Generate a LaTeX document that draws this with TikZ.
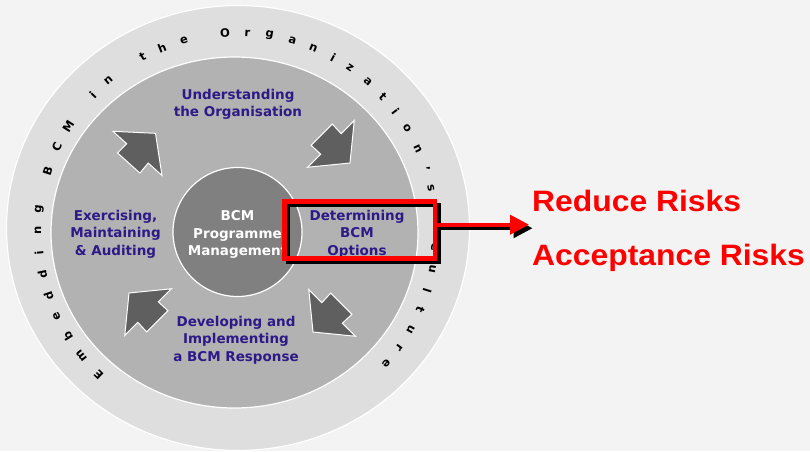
\documentclass[tikz,border=0pt]{standalone}
\usepackage{graphicx}
\usepackage{fontspec}
\setmainfont{DejaVu Sans}
\newfontfamily\arialfont{Liberation Sans}
\usetikzlibrary{arrows.meta}
\definecolor{bgc}{HTML}{F3F3F3}
\definecolor{ringc}{HTML}{DEDEDE}
\definecolor{midc}{HTML}{B2B2B2}
\definecolor{innc}{HTML}{808080}
\definecolor{arrc}{HTML}{5F5F5F}
\definecolor{bluet}{RGB}{46,26,135}
\definecolor{redc}{HTML}{FF0000}
\begin{document}
\begin{tikzpicture}[x=1pt,y=-1pt,
  bluetxt/.style={text=bluet, font=\fontsize{13.5}{17.5}\selectfont\bfseries, align=center, inner sep=0pt},
  whitetxt/.style={text=white, font=\fontsize{13.5}{17.5}\selectfont\bfseries, align=center, inner sep=0pt},
  ringletter/.style={font=\fontsize{11.5}{11.5}\selectfont\bfseries, inner sep=0pt, text=black},
  blockarrow/.style={fill=arrc, draw=white, line width=1pt, line join=miter},
  redtxt/.style={text=redc, font=\arialfont\fontsize{29.5}{30}\selectfont\bfseries, anchor=base west, inner sep=0pt},
  optbox/.style={draw=redc, line width=4.5pt, minimum width=150.5pt, minimum height=57pt, inner sep=0pt},
  optshadow/.style={draw=black, line width=4.5pt, minimum width=150.5pt, minimum height=57pt, inner sep=0pt},
  blockarr/.pic={\path[blockarrow] (0,0) -- (-27,33) -- (-27,14.5) -- (-40,15) -- (-40,-15) -- (-27,-14.5) -- (-27,-33) -- cycle;}
]
\useasboundingbox (0,0) rectangle (810,451);
\fill[bgc] (0,0) rectangle (810,451);

% rings
\draw[white, fill=ringc, line width=1.2pt] (238,228) ellipse [x radius=231.5, y radius=222.5];
\draw[white, fill=midc, line width=1.2pt] (234.5,232.5) ellipse [x radius=183.5, y radius=175.5];
\draw[white, fill=innc, line width=1.2pt] (237.5,232) circle [radius=64.5];

% ring text
\foreach \ch/\ang [count=\k] in {E/225.9, m/218.6, b/211.7, e/205.0, d/198.9, d/192.4, i/186.0, n/179.6, g/173.45, B/162.1, C/154.8, M/147.9, i/136.4, n/130.3, t/118.3, h/112.1, e/105.4, O/93.45, r/87.0, g/80.6, a/73.8, n/67.4, i/61.1, z/55.4, a/48.9, t/42.8, i/37.2, o/31.3, n/24.8, '/18.3, s/12.8, C/-4.3, u/-10.8, l/-17.2, t/-22.9, u/-29.3, r/-35.5, e/-41.4}{
  \node[ringletter, rotate=\ang-90] (rl\k) at ({237+199*cos(\ang)},{232-199*sin(\ang)}) {\ch};
}

% block arrows
\pic[rotate=48] at (155.5,133.3) {blockarr};
\pic[rotate=-45] at (350,163) {blockarr};
\pic[rotate=-135] at (313,332) {blockarr};
\pic[rotate=135] at (129,293) {blockarr};

% texts
\node[bluetxt] (underst) at (238,104.5) {Understanding\\the Organisation};
\node[bluetxt] (exerc) at (115.5,234) {Exercising,\\Maintaining\\\& Auditing};
\node[bluetxt] (develop) at (236,340) {Developing and\\Implementing\\a BCM Response};
\node[bluetxt] (determ) at (357,234) {Determining\\BCM\\Options};
\begin{scope}
  \clip (0,0) rectangle (283,451);
  \node[whitetxt] (bcmcore) at (237.5,234.5) {BCM\\Programme\\Management};
\end{scope}

% highlight box and arrow
\node[optshadow] (detshadow) at (363.25,233.5) {};
\node[optbox] (detbox) at (359.75,230) {};
\coordinate (tipR) at (529,224.7);
\coordinate (startR) at (detbox.east |- tipR);
\draw[black, line width=4pt, -{Triangle[length=19pt,width=19pt]}] ([shift={(3.5,3.5)}]startR) -- ([shift={(3.5,3.5)}]tipR);
\draw[redc, line width=4pt, -{Triangle[length=19pt,width=19pt]}] (startR) -- (tipR);

% outcomes
\node[redtxt] (reduce) at (532,211) {\scalebox{1.08}[1]{Reduce Risks}};
\node[redtxt] (accept) at (532,265) {\scalebox{1.08}[1]{Acceptance Risks}};
\end{tikzpicture}
\end{document}
